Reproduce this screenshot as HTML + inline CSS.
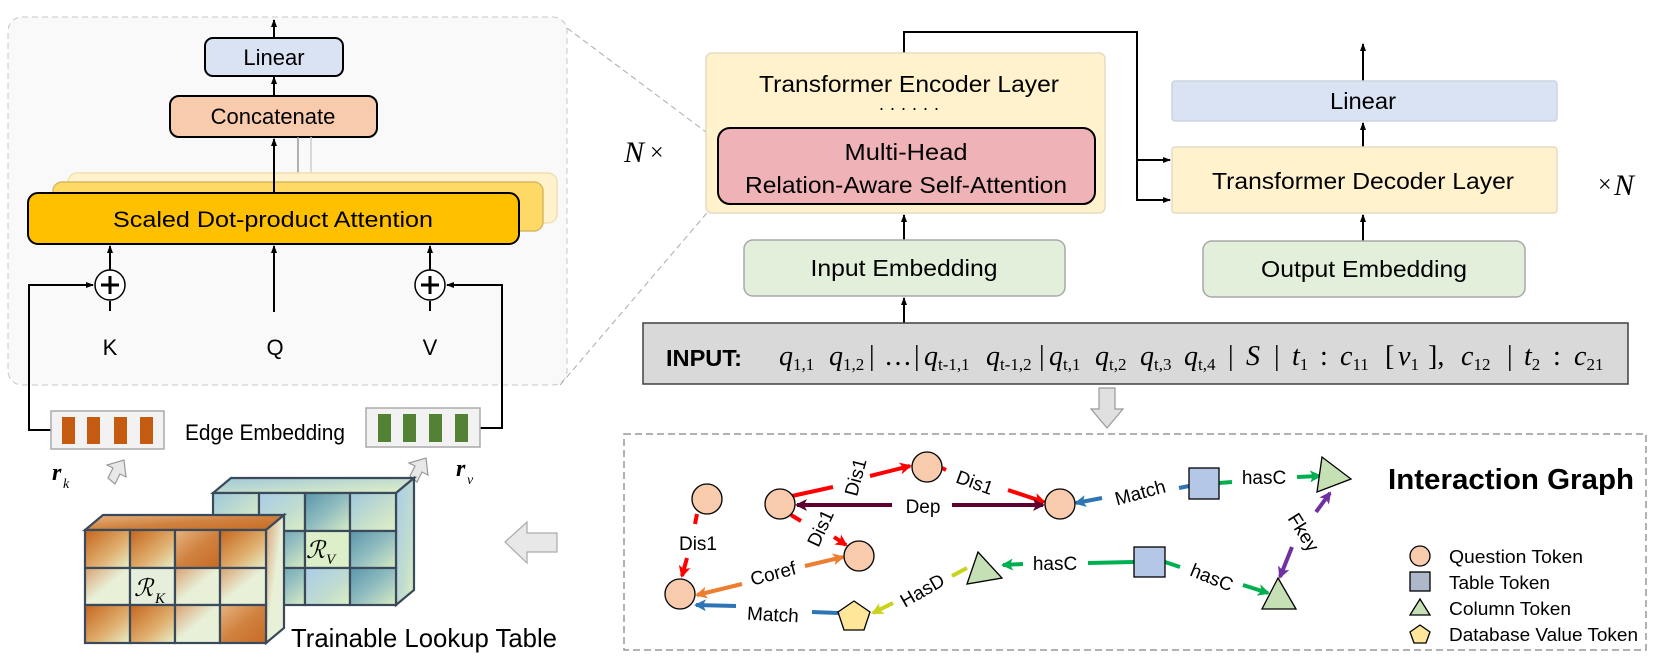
<!DOCTYPE html>
<html><head><meta charset="utf-8"><style>
html,body{margin:0;padding:0;background:#fff;}
svg{display:block;font-family:"Liberation Sans",sans-serif;}
</style></head><body>
<svg width="1660" height="659" viewBox="0 0 1660 659" xmlns="http://www.w3.org/2000/svg">
<defs>
<marker id="ab" markerWidth="8" markerHeight="8" refX="7" refY="4" orient="auto" markerUnits="userSpaceOnUse"><path d="M0,1 L8,4 L0,7z" fill="#000"/></marker>
<marker id="mr" markerWidth="12" markerHeight="12" refX="10" refY="6" orient="auto" markerUnits="userSpaceOnUse"><path d="M0,0 L12,6 L0,12 L3,6z" fill="#ff0000"/></marker>
<marker id="mo" markerWidth="12" markerHeight="12" refX="10" refY="6" orient="auto" markerUnits="userSpaceOnUse"><path d="M0,0 L12,6 L0,12 L3,6z" fill="#ed7d31"/></marker>
<marker id="mb" markerWidth="12" markerHeight="12" refX="10" refY="6" orient="auto" markerUnits="userSpaceOnUse"><path d="M0,0 L12,6 L0,12 L3,6z" fill="#2e75b6"/></marker>
<marker id="mg" markerWidth="12" markerHeight="12" refX="10" refY="6" orient="auto" markerUnits="userSpaceOnUse"><path d="M0,0 L12,6 L0,12 L3,6z" fill="#00b050"/></marker>
<marker id="my" markerWidth="12" markerHeight="12" refX="10" refY="6" orient="auto" markerUnits="userSpaceOnUse"><path d="M0,0 L12,6 L0,12 L3,6z" fill="#c9d31c"/></marker>
<marker id="mp" markerWidth="12" markerHeight="12" refX="10" refY="6" orient="auto" markerUnits="userSpaceOnUse"><path d="M0,0 L12,6 L0,12 L3,6z" fill="#7030a0"/></marker>
<marker id="md" markerWidth="12" markerHeight="12" refX="10" refY="6" orient="auto" markerUnits="userSpaceOnUse"><path d="M0,0 L12,6 L0,12 L3,6z" fill="#5e0030"/></marker>
<linearGradient id="go1" x1="0" y1="0" x2="1" y2="1"><stop offset="0" stop-color="#c4651c"/><stop offset="0.6" stop-color="#e0b070"/><stop offset="1" stop-color="#e6f0cc"/></linearGradient>
<linearGradient id="go2" x1="0" y1="0" x2="1" y2="1"><stop offset="0" stop-color="#e6b480"/><stop offset="0.5" stop-color="#d08240"/><stop offset="1" stop-color="#c86a22"/></linearGradient>
<linearGradient id="go3" x1="0" y1="0" x2="1" y2="1"><stop offset="0" stop-color="#d8a070"/><stop offset="0.5" stop-color="#e8f0d8"/><stop offset="1" stop-color="#e8f0d8"/></linearGradient>
<linearGradient id="gt1" x1="0" y1="0" x2="1" y2="1"><stop offset="0" stop-color="#9ec8dc"/><stop offset="0.6" stop-color="#c8e0cc"/><stop offset="1" stop-color="#e0f0c8"/></linearGradient>
<linearGradient id="gt2" x1="0" y1="0" x2="1" y2="1"><stop offset="0" stop-color="#5a96aa"/><stop offset="0.5" stop-color="#90bcc0"/><stop offset="1" stop-color="#d8ecc4"/></linearGradient>
<linearGradient id="gt3" x1="0" y1="0" x2="1" y2="1"><stop offset="0" stop-color="#a8cce8"/><stop offset="0.6" stop-color="#c0dcd0"/><stop offset="1" stop-color="#dcefc4"/></linearGradient>
</defs>

<!-- LEFT PANEL -->
<rect x="8" y="17" width="559" height="368" rx="14" fill="#f9f9f9" stroke="#c8c8c8" stroke-dasharray="6,4"/>
<line x1="567" y1="28" x2="718" y2="141" stroke="#aaa" stroke-dasharray="6,4"/>
<line x1="560" y1="385" x2="718" y2="200" stroke="#aaa" stroke-dasharray="6,4"/>
<line x1="274" y1="38" x2="274" y2="20" stroke="#000" stroke-width="2" marker-end="url(#ab)"/>
<rect x="205" y="38" width="138" height="38" rx="8" fill="#dae3f3" stroke="#000" stroke-width="2"/>
<text x="274" y="65" font-size="22" text-anchor="middle">Linear</text>
<line x1="274" y1="96" x2="274" y2="77" stroke="#000" stroke-width="2" marker-end="url(#ab)"/>
<rect x="170" y="96" width="207" height="41" rx="9" fill="#f8cbad" stroke="#000" stroke-width="2"/>
<text x="273" y="124" font-size="22" text-anchor="middle">Concatenate</text>
<line x1="311" y1="137" x2="311" y2="173" stroke="#ccc" stroke-width="1.5"/>
<line x1="298" y1="137" x2="298" y2="182" stroke="#999" stroke-width="1.5"/>
<rect x="68" y="173" width="489" height="50" rx="9" fill="#fff2cc" stroke="#f0e0b0" stroke-width="1.5"/>
<rect x="53" y="182" width="490" height="49" rx="9" fill="#ffd966" stroke="#d8b860" stroke-width="1.5"/>
<rect x="28" y="193" width="491" height="51" rx="10" fill="#ffc000" stroke="#000" stroke-width="2"/>
<text x="273" y="227" font-size="22" text-anchor="middle" textLength="320" lengthAdjust="spacingAndGlyphs">Scaled Dot-product Attention</text>
<line x1="274" y1="193" x2="274" y2="139" stroke="#000" stroke-width="2" marker-end="url(#ab)"/>
<!-- K Q V -->
<line x1="110" y1="270" x2="110" y2="246" stroke="#000" stroke-width="2" marker-end="url(#ab)"/>
<line x1="110" y1="301" x2="110" y2="311" stroke="#000" stroke-width="2"/>
<circle cx="110" cy="285" r="15" fill="#fff" stroke="#000" stroke-width="1.5"/>
<path d="M101,285h18M110,276v18" stroke="#000" stroke-width="3"/>
<line x1="430" y1="270" x2="430" y2="246" stroke="#000" stroke-width="2" marker-end="url(#ab)"/>
<line x1="430" y1="301" x2="430" y2="311" stroke="#000" stroke-width="2"/>
<circle cx="430" cy="285" r="15" fill="#fff" stroke="#000" stroke-width="1.5"/>
<path d="M421,285h18M430,276v18" stroke="#000" stroke-width="3"/>
<line x1="274" y1="312" x2="274" y2="246" stroke="#000" stroke-width="2" marker-end="url(#ab)"/>
<text x="110" y="355" font-size="22" text-anchor="middle">K</text>
<text x="275" y="355" font-size="22" text-anchor="middle">Q</text>
<text x="430" y="355" font-size="22" text-anchor="middle">V</text>
<polyline points="51,430 29,430 29,285 93,285" fill="none" stroke="#000" stroke-width="2" marker-end="url(#ab)"/>
<polyline points="480,428 502,428 502,285 447,285" fill="none" stroke="#000" stroke-width="2" marker-end="url(#ab)"/>
<!-- embeddings -->
<rect x="51" y="411" width="113" height="38" fill="#f2f2f2" stroke="#aaa" stroke-width="1.5"/>
<rect x="62" y="417" width="13" height="27" fill="#c55a11"/><rect x="87" y="417" width="13" height="27" fill="#c55a11"/><rect x="114" y="417" width="13" height="27" fill="#c55a11"/><rect x="140" y="417" width="13" height="27" fill="#c55a11"/>
<rect x="366" y="408" width="114" height="39" fill="#f2f2f2" stroke="#aaa" stroke-width="1.5"/>
<rect x="378" y="414" width="13" height="28" fill="#548235"/><rect x="403" y="414" width="13" height="28" fill="#548235"/><rect x="429" y="414" width="13" height="28" fill="#548235"/><rect x="455" y="414" width="13" height="28" fill="#548235"/>
<text x="185" y="440" font-size="22" textLength="160" lengthAdjust="spacingAndGlyphs">Edge Embedding</text>
<text x="52" y="480" font-size="24" font-family="Liberation Serif" font-style="italic" font-weight="bold">r</text><text x="63" y="488" font-size="14" font-family="Liberation Serif" font-style="italic">k</text>
<text x="456" y="476" font-size="24" font-family="Liberation Serif" font-style="italic" font-weight="bold">r</text><text x="467" y="484" font-size="14" font-family="Liberation Serif" font-style="italic">v</text>
<path d="M108,478 l5,-10 l-6,-3 l17,-5 l2,17 l-6,-3 l-5,10z" fill="#e8e8e8" stroke="#999" stroke-width="1.2"/>
<path d="M410,476 l5,-10 l-6,-3 l17,-5 l2,17 l-6,-3 l-5,10z" fill="#e8e8e8" stroke="#999" stroke-width="1.2"/>
<!-- RV cube -->
<g stroke="#3a4a5a" stroke-width="2.2">
<polygon points="213,493 396,493 414,478 231,478" fill="url(#gt1)"/>
<polygon points="396,493 414,478 414,590 396,605" fill="url(#gt3)"/>
<rect x="213" y="493" width="46" height="38" fill="url(#gt1)"/><rect x="259" y="493" width="46" height="38" fill="url(#gt3)"/><rect x="305" y="493" width="45" height="38" fill="url(#gt2)"/><rect x="350" y="493" width="46" height="38" fill="url(#gt1)"/>
<rect x="213" y="531" width="46" height="37" fill="url(#gt2)"/><rect x="259" y="531" width="46" height="37" fill="url(#gt2)"/><rect x="305" y="531" width="45" height="37" fill="#dcefc8"/><rect x="350" y="531" width="46" height="37" fill="url(#gt2)"/>
<rect x="213" y="568" width="46" height="37" fill="url(#gt2)"/><rect x="259" y="568" width="46" height="37" fill="url(#gt2)"/><rect x="305" y="568" width="45" height="37" fill="url(#gt3)"/><rect x="350" y="568" width="46" height="37" fill="url(#gt2)"/>
</g>
<text x="306" y="558" font-size="24" font-family="Liberation Serif" font-style="italic">ℛ</text><text x="326" y="564" font-size="15" font-family="Liberation Serif" font-style="italic">V</text>
<!-- RK cube -->
<g stroke="#3a4a5a" stroke-width="2.2">
<polygon points="85,530 266,530 284,515 103,515" fill="url(#go2)"/>
<polygon points="266,530 284,515 284,628 266,643" fill="url(#go3)"/>
<rect x="85" y="530" width="45" height="38" fill="url(#go1)"/><rect x="130" y="530" width="45" height="38" fill="url(#go1)"/><rect x="175" y="530" width="45" height="38" fill="url(#go2)"/><rect x="220" y="530" width="46" height="38" fill="url(#go1)"/>
<rect x="85" y="568" width="45" height="37" fill="url(#go3)"/><rect x="130" y="568" width="45" height="37" fill="#e6efdc"/><rect x="175" y="568" width="45" height="37" fill="url(#go3)"/><rect x="220" y="568" width="46" height="37" fill="url(#go3)"/>
<rect x="85" y="605" width="45" height="38" fill="url(#go1)"/><rect x="130" y="605" width="45" height="38" fill="url(#go1)"/><rect x="175" y="605" width="45" height="38" fill="url(#go3)"/><rect x="220" y="605" width="46" height="38" fill="url(#go2)"/>
</g>
<text x="134" y="596" font-size="24" font-family="Liberation Serif" font-style="italic">ℛ</text><text x="155" y="603" font-size="15" font-family="Liberation Serif" font-style="italic">K</text>
<text x="291" y="647" font-size="26" textLength="266" lengthAdjust="spacingAndGlyphs">Trainable Lookup Table</text>
<path d="M505,542 l22,-20 v11 h30 v19 h-30 v11z" fill="#e8e8e8" stroke="#aaa" stroke-width="1.2"/>

<!-- RIGHT: ENCODER -->
<text x="624" y="162" font-size="30" font-family="Liberation Serif" font-style="italic">N</text><text x="650" y="160" font-size="24" font-family="Liberation Serif">×</text>
<polyline points="904,53 904,32 1137,32 1137,200 1170,200" fill="none" stroke="#000" stroke-width="2" marker-end="url(#ab)"/>
<line x1="1137" y1="160" x2="1170" y2="160" stroke="#000" stroke-width="2" marker-end="url(#ab)"/>
<rect x="706" y="53" width="399" height="160" rx="6" fill="#fff2cc" stroke="#e3dcc0" stroke-width="1.5"/>
<text x="909" y="92" font-size="23" text-anchor="middle" textLength="300" lengthAdjust="spacingAndGlyphs">Transformer Encoder Layer</text>
<text x="909" y="114" font-size="18" text-anchor="middle">·  ·  ·    ·  ·  ·</text>
<rect x="718" y="128" width="377" height="76" rx="12" fill="#efb3b7" stroke="#000" stroke-width="2"/>
<text x="906" y="160" font-size="23" text-anchor="middle" textLength="123" lengthAdjust="spacingAndGlyphs">Multi-Head</text>
<text x="906" y="193" font-size="23" text-anchor="middle" textLength="322" lengthAdjust="spacingAndGlyphs">Relation-Aware Self-Attention</text>
<line x1="904" y1="240" x2="904" y2="215" stroke="#000" stroke-width="2" marker-end="url(#ab)"/>
<rect x="744" y="240" width="321" height="56" rx="9" fill="#e2efda" stroke="#a8a8a8" stroke-width="1.5"/>
<text x="904" y="276" font-size="23" text-anchor="middle" textLength="187" lengthAdjust="spacingAndGlyphs">Input Embedding</text>
<line x1="904" y1="323" x2="904" y2="298" stroke="#000" stroke-width="2" marker-end="url(#ab)"/>
<!-- DECODER -->
<line x1="1363" y1="81" x2="1363" y2="44" stroke="#000" stroke-width="2" marker-end="url(#ab)"/>
<rect x="1172" y="81" width="385" height="40" rx="3" fill="#dae3f3" stroke="#ccd4e2" stroke-width="1.5"/>
<text x="1363" y="109" font-size="23" text-anchor="middle" textLength="66" lengthAdjust="spacingAndGlyphs">Linear</text>
<line x1="1363" y1="147" x2="1363" y2="123" stroke="#000" stroke-width="2" marker-end="url(#ab)"/>
<rect x="1172" y="147" width="385" height="66" rx="3" fill="#fff2cc" stroke="#e3dcc0" stroke-width="1.5"/>
<text x="1363" y="189" font-size="23" text-anchor="middle" textLength="302" lengthAdjust="spacingAndGlyphs">Transformer Decoder Layer</text>
<line x1="1363" y1="241" x2="1363" y2="215" stroke="#000" stroke-width="2" marker-end="url(#ab)"/>
<rect x="1203" y="241" width="322" height="56" rx="9" fill="#e2efda" stroke="#a8a8a8" stroke-width="1.5"/>
<text x="1364" y="277" font-size="23" text-anchor="middle" textLength="206" lengthAdjust="spacingAndGlyphs">Output Embedding</text>
<text x="1598" y="192" font-size="24" font-family="Liberation Serif">×</text><text x="1614" y="195" font-size="30" font-family="Liberation Serif" font-style="italic">N</text>

<!-- INPUT BOX -->
<rect x="643" y="323" width="985" height="61" fill="#d9d9d9" stroke="#404040" stroke-width="1.5"/>
<text x="666" y="366" font-size="23" font-weight="bold" textLength="76" lengthAdjust="spacingAndGlyphs">INPUT:</text>
<g font-family="Liberation Serif" font-size="28" font-style="italic">
<text x="779" y="365">q<tspan font-size="17" font-style="normal" dy="5">1,1</tspan></text>
<text x="829" y="365">q<tspan font-size="17" font-style="normal" dy="5">1,2</tspan></text>
<text x="869" y="365" font-style="normal">|</text>
<text x="884" y="365" font-style="normal">…</text>
<text x="914" y="365" font-style="normal">|</text>
<text x="924" y="365">q<tspan font-size="17" font-style="normal" dy="5">t-1,1</tspan></text>
<text x="986" y="365">q<tspan font-size="17" font-style="normal" dy="5">t-1,2</tspan></text>
<text x="1039" y="365" font-style="normal">|</text>
<text x="1049" y="365">q<tspan font-size="17" font-style="normal" dy="5">t,1</tspan></text>
<text x="1095" y="365">q<tspan font-size="17" font-style="normal" dy="5">t,2</tspan></text>
<text x="1140" y="365">q<tspan font-size="17" font-style="normal" dy="5">t,3</tspan></text>
<text x="1184" y="365">q<tspan font-size="17" font-style="normal" dy="5">t,4</tspan></text>
<text x="1228" y="365" font-style="normal">|</text>
<text x="1246" y="365">S</text>
<text x="1274" y="365" font-style="normal">|</text>
<text x="1292" y="365">t<tspan font-size="17" font-style="normal" dy="5">1</tspan></text>
<text x="1320" y="365" font-style="normal">:</text>
<text x="1340" y="365">c<tspan font-size="17" font-style="normal" dy="5">11</tspan></text>
<text x="1385" y="365" font-style="normal">[</text>
<text x="1398" y="365">v<tspan font-size="17" font-style="normal" dy="5">1</tspan></text>
<text x="1428" y="365" font-style="normal">],</text>
<text x="1461" y="365">c<tspan font-size="17" font-style="normal" dy="5">12</tspan></text>
<text x="1507" y="365" font-style="normal">|</text>
<text x="1524" y="365">t<tspan font-size="17" font-style="normal" dy="5">2</tspan></text>
<text x="1553" y="365" font-style="normal">:</text>
<text x="1574" y="365">c<tspan font-size="17" font-style="normal" dy="5">21</tspan></text>
</g>
<path d="M1099,388 h16 v21 h8 l-16,19 l-16,-19 h8z" fill="#e0e0e0" stroke="#999" stroke-width="1.2"/>

<!-- INTERACTION GRAPH -->
<rect x="624" y="434" width="1022" height="216" fill="#fff" stroke="#999" stroke-width="1.5" stroke-dasharray="7,4"/>
<g stroke-width="4" fill="none">
<line x1="697" y1="514" x2="695" y2="524" stroke="#ff0000"/>
<line x1="687" y1="558" x2="682" y2="576" stroke="#ff0000" marker-end="url(#mr)"/>
<line x1="792" y1="496" x2="833" y2="487" stroke="#ff0000"/>
<line x1="870" y1="476" x2="910" y2="466" stroke="#ff0000" marker-end="url(#mr)"/>
<line x1="942" y1="468" x2="946" y2="470" stroke="#ff0000"/>
<line x1="1008" y1="490" x2="1044" y2="502" stroke="#ff0000" marker-end="url(#mr)"/>
<line x1="892" y1="505" x2="797" y2="505" stroke="#5e0030" marker-end="url(#md)"/>
<line x1="952" y1="505" x2="1043" y2="505" stroke="#5e0030" marker-end="url(#md)"/>
<line x1="791" y1="515" x2="801" y2="521" stroke="#ff0000"/>
<line x1="834" y1="537" x2="846" y2="545" stroke="#ff0000" marker-end="url(#mr)"/>
<line x1="742" y1="584" x2="697" y2="595" stroke="#ed7d31" marker-end="url(#mo)"/>
<line x1="805" y1="566" x2="843" y2="557" stroke="#ed7d31" marker-end="url(#mo)"/>
<line x1="736" y1="606" x2="696" y2="605" stroke="#2e75b6" marker-end="url(#mb)"/>
<line x1="812" y1="612" x2="838" y2="613" stroke="#2e75b6"/>
<line x1="952" y1="576" x2="967" y2="568" stroke="#c9d31c"/>
<line x1="893" y1="603" x2="873" y2="613" stroke="#c9d31c" marker-end="url(#my)"/>
<line x1="1189" y1="486" x2="1179" y2="488" stroke="#2e75b6"/>
<line x1="1102" y1="498" x2="1076" y2="503" stroke="#2e75b6" marker-end="url(#mb)"/>
<line x1="1219" y1="483" x2="1232" y2="482" stroke="#00b050"/>
<line x1="1297" y1="477" x2="1320" y2="476" stroke="#00b050" marker-end="url(#mg)"/>
<line x1="1134" y1="562" x2="1088" y2="563" stroke="#00b050"/>
<line x1="1023" y1="564" x2="1003" y2="565" stroke="#00b050" marker-end="url(#mg)"/>
<line x1="1165" y1="562" x2="1180" y2="567" stroke="#00b050"/>
<line x1="1243" y1="585" x2="1268" y2="593" stroke="#00b050" marker-end="url(#mg)"/>
<line x1="1316" y1="512" x2="1330" y2="493" stroke="#7030a0" marker-end="url(#mp)"/>
<line x1="1292" y1="547" x2="1280" y2="577" stroke="#7030a0" marker-end="url(#mp)"/>
</g>
<g font-size="19" fill="#000" text-anchor="middle">
<text x="698" y="550">Dis1</text>
<text transform="translate(855,477) rotate(-75)" y="7">Dis1</text>
<text transform="translate(975,482) rotate(20)" y="7">Dis1</text>
<text x="923" y="513">Dep</text>
<text transform="translate(820,528) rotate(-65)" y="7">Dis1</text>
<text transform="translate(773,573) rotate(-15)" y="7">Coref</text>
<text transform="translate(773,614) rotate(3)" y="7">Match</text>
<text transform="translate(922,590) rotate(-30)" y="7">HasD</text>
<text transform="translate(1140,492) rotate(-15)" y="7">Match</text>
<text x="1264" y="484">hasC</text>
<text x="1055" y="570">hasC</text>
<text transform="translate(1212,577) rotate(22)" y="7">hasC</text>
<text transform="translate(1304,532) rotate(58)" y="7">Fkey</text>
</g>
<g stroke="#000" stroke-width="1.3">
<ellipse cx="707" cy="499" rx="15" ry="15" fill="#f8cbad"/>
<ellipse cx="680" cy="594" rx="15" ry="15" fill="#f8cbad"/>
<ellipse cx="780" cy="504" rx="15" ry="15" fill="#f8cbad"/>
<ellipse cx="927" cy="467" rx="15" ry="15" fill="#f8cbad"/>
<ellipse cx="859" cy="556" rx="15" ry="15" fill="#f8cbad"/>
<ellipse cx="1060" cy="504" rx="15" ry="15" fill="#f8cbad"/>
<polygon points="854,601 870,612 864,630 844,630 838,612" fill="#ffe699"/>
<polygon points="978,552 967,584 1002,578" fill="#c5e0b4"/>
<polygon points="1322,457 1317,492 1351,479" fill="#c5e0b4"/>
<polygon points="1278,578 1262,609 1296,609" fill="#c5e0b4"/>
<rect x="1189" y="468" width="30" height="31" fill="#b4c7e7"/>
<rect x="1134" y="547" width="31" height="30" fill="#b4c7e7"/>
<circle cx="1420" cy="556" r="10" fill="#f8cbad"/>
<rect x="1410" y="572" width="20" height="19" fill="#adb9ca"/>
<polygon points="1420,599 1410,615 1430,615" fill="#c5e0b4"/>
<polygon points="1420,625 1430,632 1426,643 1414,643 1410,632" fill="#ffe699"/>
</g>
<text x="1388" y="489" font-size="29" font-weight="bold" textLength="246" lengthAdjust="spacingAndGlyphs">Interaction Graph</text>
<g font-size="18">
<text x="1449" y="563" textLength="134" lengthAdjust="spacingAndGlyphs">Question Token</text>
<text x="1449" y="589" textLength="101" lengthAdjust="spacingAndGlyphs">Table Token</text>
<text x="1449" y="615" textLength="122" lengthAdjust="spacingAndGlyphs">Column Token</text>
<text x="1449" y="641" textLength="189" lengthAdjust="spacingAndGlyphs">Database Value Token</text>
</g>
</svg>
</body></html>
